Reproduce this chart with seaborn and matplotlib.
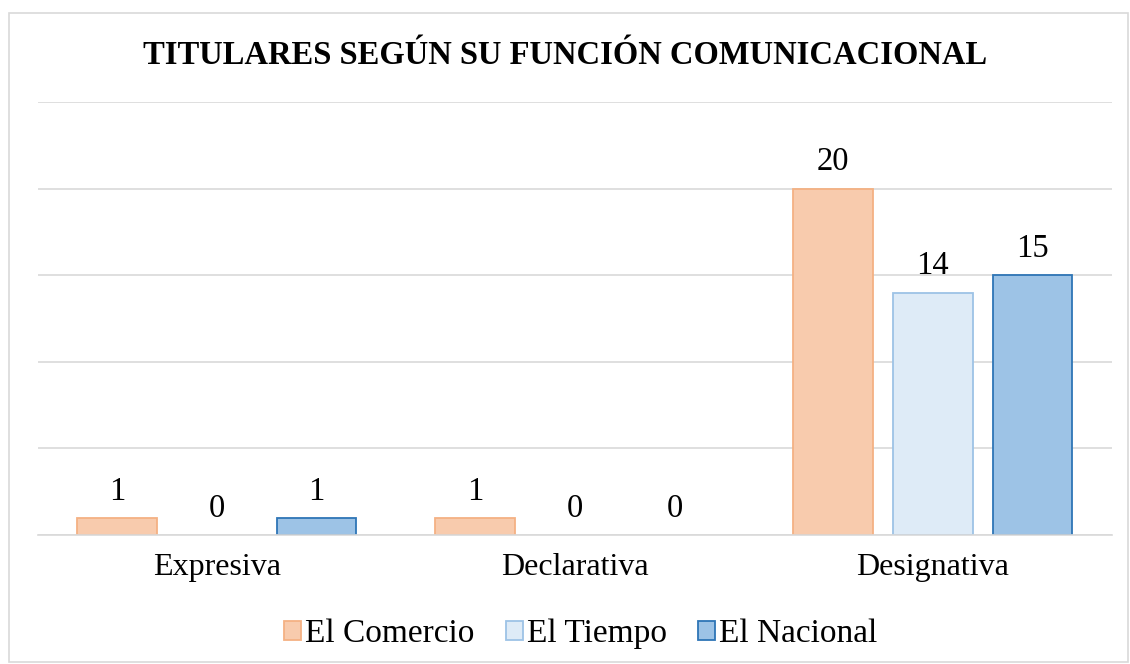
import numpy as np
import matplotlib.pyplot as plt
import seaborn as sns
import pandas as pd
from matplotlib.patches import Rectangle

# data
categories = ["Expresiva", "Declarativa", "Designativa"]
el_comercio = [1, 1, 20]
el_tiempo = [0, 0, 14]
el_nacional = [1, 0, 15]
series = ["El Comercio", "El Tiempo", "El Nacional"]

fills = ["#F8CBAD", "#DEEBF7", "#9DC3E6"]
edges = ["#F4B183", "#9DC3E6", "#2E75B6"]

rows = []
for s, vals in zip(series, [el_comercio, el_tiempo, el_nacional]):
    for c, v in zip(categories, vals):
        rows.append([c, s, v])
df = pd.DataFrame(rows, columns=["funcion", "diario", "titulares"])

sns.set_style("white")
plt.rcParams["font.family"] = ["Liberation Serif", "DejaVu Serif"]
plt.rcParams["text.color"] = "black"
plt.rcParams["xtick.color"] = "black"

fig = plt.figure(figsize=(11.3, 6.64), dpi=100)
ax = fig.add_axes([0.0336, 0.1943, 0.9504, 0.6521])

sns.barplot(data=df, x="funcion", y="titulares", hue="diario",
            hue_order=series, order=categories, palette=fills,
            saturation=1, width=0.835, gap=0.2, ax=ax, legend=False)

for cont, ec in zip(ax.containers, edges):
    for p in cont:
        p.set_edgecolor(ec)
        p.set_linewidth(1.3)
        if p.get_height() == 0:
            p.set_edgecolor("none")
    ax.bar_label(cont, fmt="%g", padding=8, fontsize=23.5, color="black")

ax.set_ylim(0, 25)
ax.set_xlim(-0.5, 2.5)
ax.set_yticks(np.arange(0, 26, 5))
ax.set_yticklabels([])
ax.yaxis.grid(True, color="#D9D9D9", linewidth=1.2)
ax.set_axisbelow(True)
for side in ["left", "right", "top"]:
    ax.spines[side].set_visible(False)
ax.spines["bottom"].set_color("#D9D9D9")
ax.spines["bottom"].set_linewidth(1.2)
ax.tick_params(axis="x", length=0, labelsize=23, pad=13, labelcolor="black")
ax.tick_params(axis="y", length=0)
ax.set_xlabel("")
ax.set_ylabel("")

handles = [Rectangle((0, 0), 1, 1, facecolor=f, edgecolor=e, linewidth=1.3)
           for f, e in zip(fills, edges)]
fig.legend(handles, series, loc="center", bbox_to_anchor=(0.514, 0.045),
           ncol=3, frameon=False, fontsize=24, handlelength=0.5,
           handleheight=0.5, handletextpad=0.12, columnspacing=0.95)

fig.text(0.5, 0.917, "TITULARES SEGÚN SU FUNCIÓN COMUNICACIONAL",
         ha="center", va="center", fontsize=23.5, fontweight="bold")

fig.patches.append(Rectangle((0.008, 0.003), 0.99, 0.978, transform=fig.transFigure,
                             fill=False, edgecolor="#D9D9D9", linewidth=1.2))

fig.savefig("out.png", dpi=100)
